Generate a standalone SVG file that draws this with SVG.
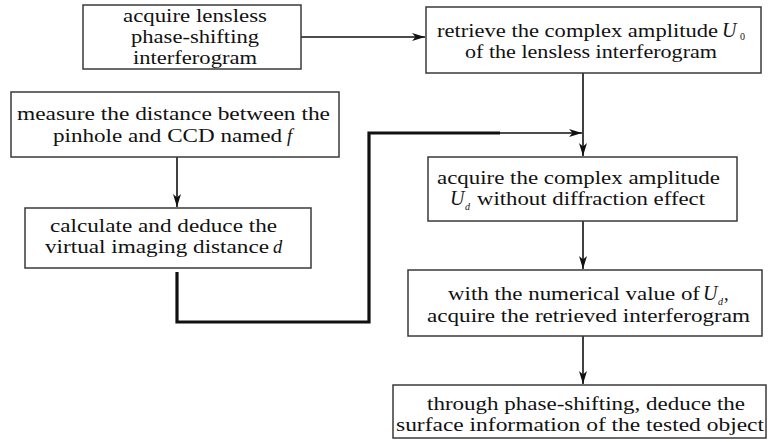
<svg xmlns="http://www.w3.org/2000/svg" width="768" height="445" viewBox="0 0 768 445">
<style>
.box{fill:#fff;stroke:#3a3a3a;stroke-width:1.5}
.ln{fill:none;stroke:#111;stroke-width:1.6}
.thick{fill:none;stroke:#111;stroke-width:3.2}
</style>
<defs>
<marker id="ah" markerUnits="userSpaceOnUse" markerWidth="14" markerHeight="8" refX="13" refY="4" orient="auto">
<path d="M0,0 L13,4 L0,8 L3.5,4 Z" fill="#111"/>
</marker>
</defs>
<rect width="768" height="445" fill="#fff"/>
<g id="connectors">
<path class="ln" d="M301,37 H425" marker-end="url(#ah)"/>
<path class="ln" d="M583,73 V156" marker-end="url(#ah)"/>
<path class="ln" d="M177,157 V207" marker-end="url(#ah)"/>
<path class="thick" d="M177,272 V322 H369 V133 H500"/>
<path class="ln" d="M499,133 H582" marker-end="url(#ah)"/>
<path class="ln" d="M583,221 V269" marker-end="url(#ah)"/>
<path class="ln" d="M583,336 V384" marker-end="url(#ah)"/>
</g>
<g font-family="'Liberation Serif', 'Times New Roman', serif" font-size="18.5" fill="#111">
<g id="n1">
<rect class="box" x="83" y="5" width="218" height="64"/>
<text x="123" y="22" textLength="144" lengthAdjust="spacingAndGlyphs">acquire lensless</text>
<text x="131" y="43" textLength="128" lengthAdjust="spacingAndGlyphs">phase-shifting</text>
<text x="133" y="64" textLength="124" lengthAdjust="spacingAndGlyphs">interferogram</text>
</g>
<g id="n2">
<rect class="box" x="426" y="7" width="335" height="66"/>
<text x="437" y="37" textLength="281" lengthAdjust="spacingAndGlyphs">retrieve the complex amplitude</text>
<text x="722" y="37" font-style="italic" font-size="20">U</text>
<text x="740" y="40" font-size="10">0</text>
<text x="465" y="58" textLength="252" lengthAdjust="spacingAndGlyphs">of the lensless interferogram</text>
</g>
<g id="n3">
<rect class="box" x="11" y="92" width="328" height="65"/>
<text x="17" y="120" textLength="313" lengthAdjust="spacingAndGlyphs">measure the distance between the</text>
<text x="53" y="142" textLength="229" lengthAdjust="spacingAndGlyphs">pinhole and CCD named</text>
<text x="287" y="142" font-style="italic">f</text>
</g>
<g id="n4">
<rect class="box" x="25" y="208" width="286" height="60"/>
<text x="50" y="232" textLength="227" lengthAdjust="spacingAndGlyphs">calculate and deduce the</text>
<text x="45" y="253" textLength="224" lengthAdjust="spacingAndGlyphs">virtual imaging distance</text>
<text x="273" y="253" font-style="italic">d</text>
</g>
<g id="n5">
<rect class="box" x="428" y="157" width="309" height="64"/>
<text x="437" y="184" textLength="283" lengthAdjust="spacingAndGlyphs">acquire the complex amplitude</text>
<text x="450" y="205" font-style="italic" font-size="20">U</text>
<text x="465" y="210" font-size="10" font-style="italic">d</text>
<text x="477" y="205" textLength="228" lengthAdjust="spacingAndGlyphs">without diffraction effect</text>
</g>
<g id="n6">
<rect class="box" x="408" y="270" width="354" height="66"/>
<text x="448" y="300" textLength="252" lengthAdjust="spacingAndGlyphs">with the numerical value of</text>
<text x="703" y="300" font-style="italic" font-size="20">U</text>
<text x="718" y="305" font-size="10" font-style="italic">d</text>
<text x="724" y="300">,</text>
<text x="427" y="322" textLength="323" lengthAdjust="spacingAndGlyphs">acquire the retrieved interferogram</text>
</g>
<g id="n7">
<rect class="box" x="393" y="385" width="373" height="53"/>
<text x="427" y="410" textLength="318" lengthAdjust="spacingAndGlyphs">through phase-shifting, deduce the</text>
<text x="396" y="431" textLength="368" lengthAdjust="spacingAndGlyphs">surface information of the tested object</text>
</g>
</g>
</svg>
